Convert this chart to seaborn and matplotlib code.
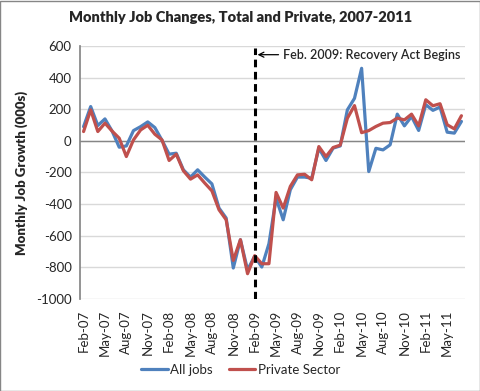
import seaborn as sns
import pandas as pd
import matplotlib.pyplot as plt
from matplotlib.patches import Rectangle

# monthly data Feb-07 .. Jul-11 (000s)
months = pd.date_range('2007-02-01', '2011-07-01', freq='MS').strftime('%b-%y').tolist()
all_jobs = [90, 217, 97, 139, 62, -40, -32, 65, 90, 120, 84, 4,
            -84, -78, -183, -229, -183, -229, -272, -425, -488, -804, -625, -815,
            -730, -798, -650, -362, -499, -309, -229, -229, -236, -46, -124, -46,
            -32, 196, 269, 459, -194, -47, -57, -25, 169, 95, 154, 66,
            229, 193, 214, 55, 49, 123]
private = [59, 196, 59, 112, 62, 17, -99, 6, 69, 99, 42, 6,
           -124, -84, -189, -242, -215, -267, -316, -436, -499, -756, -625, -840,
           -726, -777, -777, -326, -425, -288, -215, -211, -246, -36, -99, -42,
           -27, 143, 223, 52, 65, 91, 112, 116, 144, 133, 169, 95,
           260, 222, 235, 102, 76, 159]
series_names = ['All jobs', 'Private Sector']
colors = {'All jobs': '#4F81BD', 'Private Sector': '#C0504D'}
event_month = 'Feb-09'
event_text = 'Feb. 2009: Recovery Act Begins'

df = pd.DataFrame({'month': months, 'All jobs': all_jobs, 'Private Sector': private})
df['pos'] = range(len(df))
long = df.melt(id_vars=['month', 'pos'], value_vars=series_names,
               var_name='series', value_name='change')

sns.set_theme(style='white')
plt.rcParams['font.family'] = ['Lato', 'DejaVu Sans']

fig = plt.figure(figsize=(4.81, 3.91), dpi=100)
ax = fig.add_axes([80 / 481, 1 - 299 / 391, 385 / 481, 253 / 391])

sns.lineplot(data=long, x='pos', y='change', hue='series', palette=colors,
             hue_order=series_names, linewidth=2.3, ax=ax, legend=True)

ax.set_xlim(-0.5, len(months) - 0.5)
ax.set_ylim(-1000, 600)
ax.set_yticks(range(-1000, 601, 200))
ax.set_yticklabels([str(v) for v in range(-1000, 601, 200)], fontsize=9.5)
ax.yaxis.grid(True, color='#d9d9d9', linewidth=1)
ax.set_axisbelow(True)
ax.axhline(0, color='#868686', linewidth=1, zorder=1)

ticks = list(range(0, len(months), 3))
ax.set_xticks(ticks)
ax.set_xticklabels([months[i] for i in ticks], rotation=90, fontsize=9.5)
ax.tick_params(axis='both', length=0, pad=6)
ax.tick_params(axis='x', pad=8)

for s in ['top', 'right', 'bottom']:
    ax.spines[s].set_visible(False)
ax.spines['left'].set_color('#868686')

ax.set_xlabel('')
ax.set_ylabel('Monthly Job Growth (000s)', fontsize=9.5, fontweight='heavy', labelpad=6)

ev = months.index(event_month)
ax.vlines(ev, -1000, 590, colors='black', linestyles=(0, (2.5, 1.5)), linewidth=2.2, zorder=5)
ax.annotate(event_text, xy=(ev + 0.4, 545), xytext=(ev + 4.0, 545),
            va='center', ha='left', fontsize=9, fontweight='semibold',
            arrowprops=dict(arrowstyle='->', color='black', lw=0.9, shrinkA=1, shrinkB=0))

handles, labels = ax.get_legend_handles_labels()
ax.legend_.remove()
fig.legend(handles, labels, loc='center', bbox_to_anchor=(0.5, 1 - 370 / 391),
           ncol=2, frameon=False, fontsize=9.5, handlelength=2.0,
           handletextpad=0.2, columnspacing=1.2)

fig.text(0.5, 1 - 18 / 391, 'Monthly Job Changes, Total and Private, 2007-2011',
         ha='center', va='center', fontsize=10.5, fontweight='heavy')

fig.patches.append(Rectangle((0.001, 0.001), 0.997, 0.997, transform=fig.transFigure,
                             fill=False, edgecolor='#868686', linewidth=1))

fig.savefig('out.png', dpi=100)
